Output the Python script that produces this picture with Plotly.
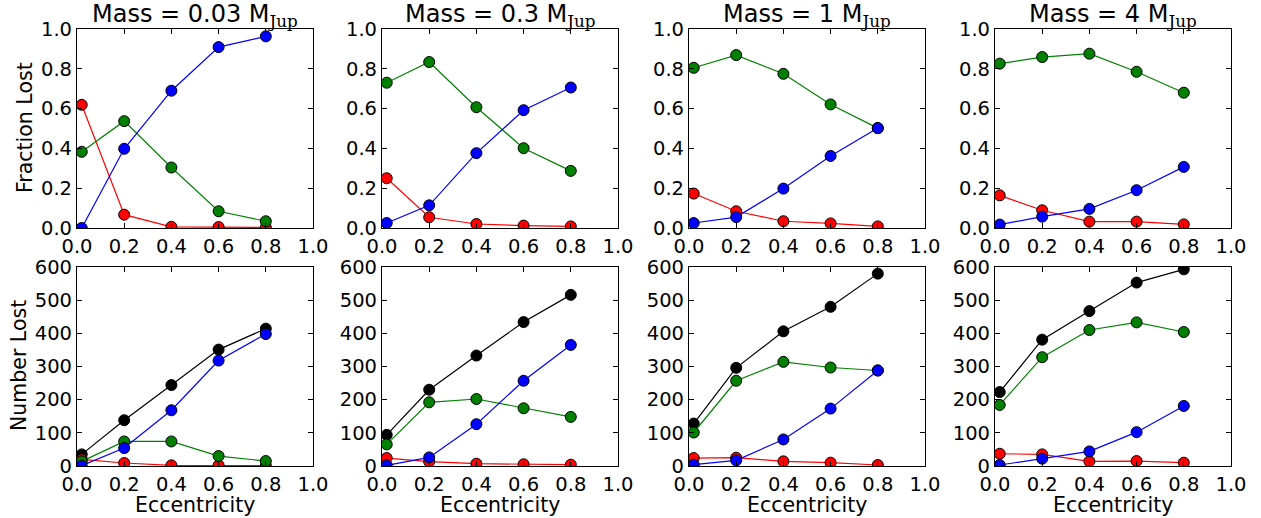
import plotly.graph_objects as go
from plotly.subplots import make_subplots

ecc = [0.02, 0.2, 0.4, 0.6, 0.8]
masses = ["0.03", "0.3", "1", "4"]

# Fraction lost (top row)
frac_red = [
    [0.619, 0.067, 0.006, 0.005, 0.003],
    [0.250, 0.054, 0.020, 0.012, 0.008],
    [0.173, 0.084, 0.034, 0.023, 0.008],
    [0.164, 0.089, 0.032, 0.032, 0.018],
]
frac_green = [
    [0.383, 0.537, 0.304, 0.084, 0.034],
    [0.730, 0.834, 0.607, 0.401, 0.287],
    [0.805, 0.869, 0.775, 0.621, 0.502],
    [0.826, 0.859, 0.876, 0.785, 0.680],
]
frac_blue = [
    [0.000, 0.398, 0.690, 0.909, 0.963],
    [0.025, 0.114, 0.376, 0.592, 0.706],
    [0.025, 0.055, 0.198, 0.362, 0.502],
    [0.017, 0.057, 0.096, 0.190, 0.307],
]

# Number lost (bottom row)
num_black = [
    [35, 138, 244, 351, 414],
    [94, 230, 333, 434, 516],
    [128, 296, 406, 480, 580],
    [223, 381, 467, 553, 593],
]
num_red = [
    [20, 9, 2, 2, 1],
    [24, 13, 7, 5, 4],
    [24, 25, 14, 10, 3],
    [37, 35, 14, 15, 10],
]
num_green = [
    [14, 74, 74, 30, 15],
    [65, 192, 202, 174, 148],
    [101, 257, 314, 297, 288],
    [184, 328, 410, 433, 404],
]
num_blue = [
    [1, 54, 168, 318, 398],
    [2, 26, 126, 257, 365],
    [4, 17, 80, 173, 288],
    [3, 22, 44, 102, 181],
]

x_ticks = [0.0, 0.2, 0.4, 0.6, 0.8, 1.0]
frac_ticks = [0.0, 0.2, 0.4, 0.6, 0.8, 1.0]
num_ticks = [0, 100, 200, 300, 400, 500, 600]

W, H = 1261, 518
FONT = "DejaVu Sans"
TICK_SIZE = 19.5
LABEL_SIZE = 20.5
TITLE_SIZE = 24

fig = make_subplots(rows=2, cols=4)

def add_series(y, color, row, col):
    fig.add_trace(
        go.Scatter(
            x=ecc, y=y, mode="lines+markers",
            line=dict(color=color, width=1.2),
            marker=dict(size=11, color=color, line=dict(color="black", width=1)),
            showlegend=False, cliponaxis=True,
        ),
        row=row, col=col,
    )

for i in range(4):
    add_series(frac_red[i], "#ff0000", 1, i + 1)
    add_series(frac_green[i], "#008000", 1, i + 1)
    add_series(frac_blue[i], "#0000ff", 1, i + 1)
    add_series(num_black[i], "#000000", 2, i + 1)
    add_series(num_red[i], "#ff0000", 2, i + 1)
    add_series(num_green[i], "#008000", 2, i + 1)
    add_series(num_blue[i], "#0000ff", 2, i + 1)

x_px = [(77, 313), (382, 618), (689, 925), (995, 1231)]
row_px = [(29, 228), (267, 466)]

axis_common = dict(
    showline=True, linecolor="black", linewidth=1.2, mirror="ticks",
    ticks="inside", ticklen=5, tickwidth=1, tickcolor="black",
    showgrid=False, zeroline=False, automargin=False,
    tickfont=dict(family=FONT, size=TICK_SIZE, color="black"),
)

for r in range(2):
    for c in range(4):
        idx = r * 4 + c + 1
        xs = "xaxis" if idx == 1 else f"xaxis{idx}"
        ys = "yaxis" if idx == 1 else f"yaxis{idx}"
        x0, x1 = x_px[c]
        t, b = row_px[r]
        fig.layout[xs].update(
            domain=[x0 / W, x1 / W], range=[0, 1], tickvals=x_ticks,
            ticktext=[f"{v:.1f}" for v in x_ticks], **axis_common,
        )
        if r == 0:
            fig.layout[ys].update(
                domain=[1 - b / H, 1 - t / H], range=[0, 1], tickvals=frac_ticks,
                ticktext=[f"{v:.1f}" for v in frac_ticks], **axis_common,
            )
        else:
            fig.layout[ys].update(
                domain=[1 - b / H, 1 - t / H], range=[0, 600], tickvals=num_ticks,
                ticktext=[str(v) for v in num_ticks], **axis_common,
            )

annotations = []
for c in range(4):
    x0, x1 = x_px[c]
    annotations.append(dict(
        x=(x0 + x1) / 2 / W, y=1 - 29 / H, xref="paper", yref="paper",
        xanchor="center", yanchor="bottom", yshift=-4, showarrow=False,
        text=f"Mass = {masses[c]} M<sub><span style='font-family:DejaVu Serif'>Jup</span></sub>",
        font=dict(family=FONT, size=TITLE_SIZE, color="black"),
    ))
    annotations.append(dict(
        x=(x0 + x1) / 2 / W, y=1 - 505 / H, xref="paper", yref="paper",
        xanchor="center", yanchor="middle", showarrow=False,
        text="Eccentricity", font=dict(family=FONT, size=LABEL_SIZE, color="black"),
    ))
annotations.append(dict(
    x=25 / W, y=1 - 128 / H, xref="paper", yref="paper", textangle=-90,
    xanchor="center", yanchor="middle", showarrow=False,
    text="Fraction Lost", font=dict(family=FONT, size=LABEL_SIZE, color="black"),
))
annotations.append(dict(
    x=19 / W, y=1 - 366 / H, xref="paper", yref="paper", textangle=-90,
    xanchor="center", yanchor="middle", showarrow=False,
    text="Number Lost", font=dict(family=FONT, size=LABEL_SIZE, color="black"),
))

fig.update_layout(
    width=W, height=H, margin=dict(l=0, r=0, t=0, b=0),
    paper_bgcolor="white", plot_bgcolor="white",
    annotations=annotations, showlegend=False,
    font=dict(family=FONT, color="black"),
)

fig.write_html("out.html")
